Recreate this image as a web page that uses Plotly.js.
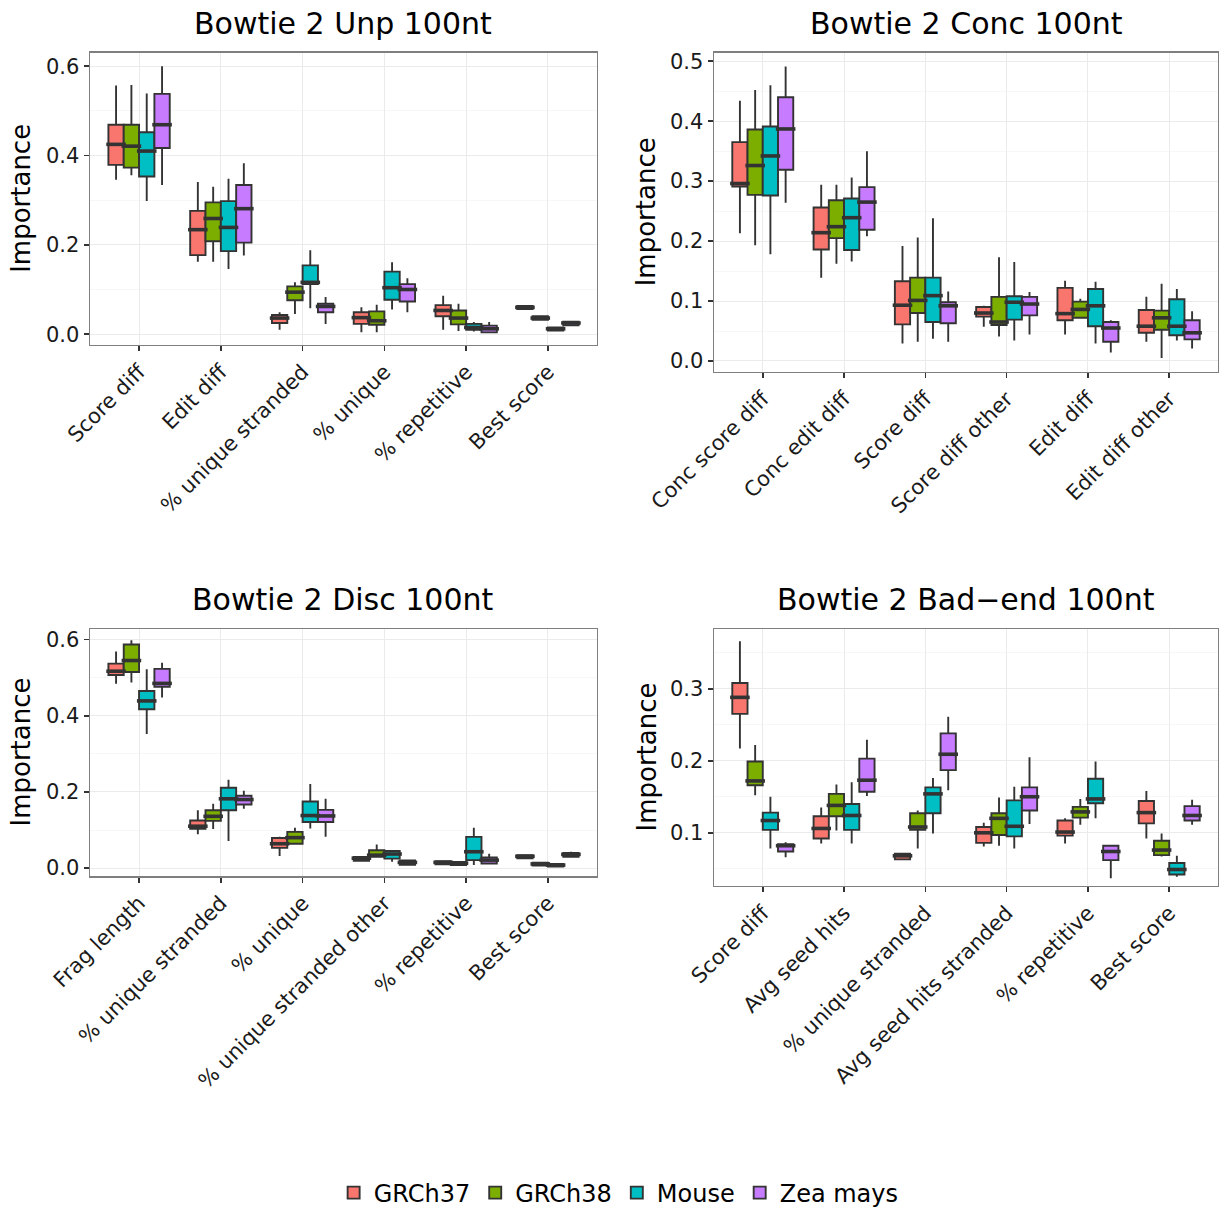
<!DOCTYPE html>
<html>
<head>
<meta charset="utf-8">
<script src="https://cdn.plot.ly/plotly-3.0.1.min.js"></script>
<style>
html,body{margin:0;padding:0;background:#fff}
</style>
</head>
<body>
<div id="chart" style="width:1225px;height:1216px"></div>
<script>
// ---------------- DATA ----------------
const genomes = ['GRCh37', 'GRCh38', 'Mouse', 'Zea mays'];

const unpCats  = ['Score diff', 'Edit diff', '% unique stranded', '% unique', '% repetitive', 'Best score'];
const concCats = ['Conc score diff', 'Conc edit diff', 'Score diff', 'Score diff other', 'Edit diff', 'Edit diff other'];
const discCats = ['Frag length', '% unique stranded', '% unique', '% unique stranded other', '% repetitive', 'Best score'];
const badCats  = ['Score diff', 'Avg seed hits', '% unique stranded', 'Avg seed hits stranded', '% repetitive', 'Best score'];

// each entry: [lower whisker, Q1, median, Q3, upper whisker]
const unpGRCh37 = [[0.346,0.379,0.425,0.469,0.557],[0.162,0.177,0.234,0.276,0.341],[0.010,0.025,0.036,0.043,0.049],[0.004,0.023,0.037,0.049,0.060],[0.010,0.040,0.053,0.065,0.086],[0.054,0.056,0.060,0.063,0.065]];
const unpGRCh38 = [[0.356,0.373,0.421,0.469,0.558],[0.162,0.208,0.259,0.295,0.330],[0.045,0.076,0.094,0.107,0.116],[0.004,0.021,0.030,0.051,0.066],[0.007,0.022,0.036,0.053,0.068],[0.030,0.032,0.036,0.040,0.041]];
const unpMouse  = [[0.298,0.353,0.410,0.452,0.539],[0.146,0.186,0.239,0.298,0.348],[0.058,0.112,0.116,0.154,0.188],[0.055,0.077,0.104,0.140,0.161],[0.006,0.010,0.015,0.023,0.027],[0.007,0.008,0.012,0.015,0.016]];
const unpZea    = [[0.334,0.417,0.469,0.538,0.600],[0.176,0.205,0.281,0.334,0.383],[0.023,0.049,0.062,0.068,0.083],[0.049,0.073,0.100,0.112,0.125],[0.003,0.004,0.012,0.019,0.027],[0.019,0.020,0.025,0.028,0.030]];

const concGRCh37 = [[0.213,0.291,0.296,0.365,0.434],[0.139,0.186,0.214,0.256,0.294],[0.029,0.061,0.093,0.133,0.192],[0.057,0.074,0.080,0.090,0.092],[0.044,0.068,0.079,0.122,0.134],[0.032,0.047,0.058,0.085,0.107]];
const concGRCh38 = [[0.193,0.277,0.326,0.386,0.452],[0.162,0.205,0.224,0.268,0.294],[0.032,0.080,0.101,0.139,0.206],[0.041,0.060,0.065,0.107,0.173],[0.072,0.072,0.086,0.099,0.104],[0.005,0.052,0.072,0.084,0.129]];
const concMouse  = [[0.178,0.276,0.342,0.391,0.460],[0.166,0.185,0.239,0.271,0.306],[0.037,0.065,0.109,0.139,0.238],[0.034,0.069,0.098,0.108,0.165],[0.029,0.058,0.092,0.120,0.132],[0.034,0.043,0.058,0.103,0.120]];
const concZea    = [[0.264,0.319,0.387,0.440,0.491],[0.208,0.219,0.265,0.290,0.350],[0.032,0.063,0.092,0.098,0.116],[0.044,0.076,0.095,0.107,0.115],[0.014,0.032,0.055,0.065,0.068],[0.021,0.036,0.047,0.068,0.083]];

const discGRCh37 = [[0.484,0.507,0.517,0.537,0.569],[0.089,0.103,0.110,0.125,0.152],[0.032,0.053,0.064,0.079,0.082],[0.018,0.019,0.026,0.029,0.031],[0.009,0.010,0.015,0.018,0.019],[0.025,0.026,0.031,0.034,0.036]];
const discGRCh38 = [[0.487,0.515,0.545,0.587,0.598],[0.103,0.124,0.136,0.152,0.169],[0.062,0.064,0.080,0.095,0.106],[0.028,0.030,0.034,0.047,0.062],[0.006,0.008,0.013,0.016,0.017],[0.005,0.007,0.011,0.014,0.015]];
const discMouse  = [[0.352,0.417,0.439,0.465,0.522],[0.071,0.152,0.182,0.211,0.232],[0.104,0.121,0.138,0.175,0.221],[0.017,0.025,0.037,0.045,0.045],[0.008,0.021,0.043,0.082,0.106],[0.002,0.004,0.008,0.011,0.012]];
const discZea    = [[0.448,0.476,0.485,0.523,0.539],[0.156,0.167,0.180,0.190,0.203],[0.082,0.121,0.137,0.153,0.182],[0.008,0.009,0.015,0.020,0.021],[0.010,0.012,0.021,0.028,0.038],[0.028,0.030,0.036,0.040,0.043]];

const badGRCh37 = [[0.217,0.265,0.288,0.308,0.366],[0.085,0.092,0.106,0.123,0.135],[0.062,0.063,0.068,0.071,0.071],[0.081,0.086,0.100,0.108,0.114],[0.085,0.096,0.101,0.117,0.120],[0.092,0.113,0.128,0.144,0.158]];
const badGRCh38 = [[0.152,0.166,0.172,0.199,0.222],[0.103,0.123,0.138,0.154,0.167],[0.078,0.104,0.108,0.127,0.131],[0.082,0.097,0.120,0.127,0.149],[0.111,0.121,0.129,0.136,0.147],[0.067,0.069,0.076,0.089,0.099]];
const badMouse  = [[0.078,0.104,0.117,0.128,0.150],[0.085,0.104,0.124,0.140,0.170],[0.099,0.127,0.154,0.163,0.176],[0.078,0.095,0.109,0.145,0.164],[0.120,0.141,0.147,0.175,0.199],[0.039,0.042,0.049,0.058,0.068]];
const badZea    = [[0.066,0.074,0.082,0.084,0.087],[0.151,0.157,0.173,0.203,0.229],[0.159,0.187,0.209,0.238,0.261],[0.112,0.131,0.150,0.163,0.205],[0.037,0.062,0.074,0.082,0.082],[0.111,0.117,0.124,0.137,0.146]];

const panelTitles = ['Bowtie 2 Unp 100nt', 'Bowtie 2 Conc 100nt', 'Bowtie 2 Disc 100nt', 'Bowtie 2 Bad\u2212end 100nt'];

// ---------------- STYLE / LAYOUT ----------------
const genomeColors = ['#F8766D', '#7CAE00', '#00BFC4', '#C77CFF'];
const FONT = 'DejaVu Sans, Verdana, sans-serif';
const W = 1225, H = 1216;

const panels = [
  {cats: unpCats,  stats: [unpGRCh37, unpGRCh38, unpMouse, unpZea],     px: [90, 597],   py: [53, 346],  range: [-0.024, 0.63],  dtick: 0.2, minor: 0.1},
  {cats: concCats, stats: [concGRCh37, concGRCh38, concMouse, concZea], px: [714, 1218], py: [53, 373],  range: [-0.018, 0.514], dtick: 0.1, minor: 0.05},
  {cats: discCats, stats: [discGRCh37, discGRCh38, discMouse, discZea], px: [90, 597],   py: [631, 879], range: [-0.021, 0.628], dtick: 0.2, minor: 0.1},
  {cats: badCats,  stats: [badGRCh37, badGRCh38, badMouse, badZea],     px: [714, 1218], py: [631, 889], range: [0.026, 0.383],  dtick: 0.1, minor: 0.05}
];

const traces = [];
const layout = {
  width: W, height: H,
  margin: {l: 0, r: 0, t: 0, b: 0},
  paper_bgcolor: '#ffffff', plot_bgcolor: '#ffffff',
  boxmode: 'group', boxgap: 0.25, boxgroupgap: 0,
  scattermode: 'group', scattergap: 0.25,
  showlegend: true,
  legend: {orientation: 'h', x: 0.505, xanchor: 'center', y: 1 - 1197 / H, yanchor: 'middle',
           font: {family: FONT, size: 24, color: '#000'}, bgcolor: 'rgba(0,0,0,0)', itemwidth: 30, traceorder: 'normal'},
  annotations: [],
  font: {family: FONT}
};

panels.forEach((p, i) => {
  const xs = i === 0 ? 'x' : 'x' + (i + 1);
  const ys = i === 0 ? 'y' : 'y' + (i + 1);
  const xk = i === 0 ? 'xaxis' : 'xaxis' + (i + 1);
  const yk = i === 0 ? 'yaxis' : 'yaxis' + (i + 1);

  p.stats.forEach((s, g) => {
    traces.push({
      type: 'box', name: genomes[g], legendgroup: genomes[g], showlegend: i === 0,
      x: p.cats,
      lowerfence: s.map(v => v[0]), q1: s.map(v => v[1]), median: s.map(v => v[2]),
      q3: s.map(v => v[3]), upperfence: s.map(v => v[4]),
      fillcolor: genomeColors[g], line: {color: '#333333', width: 1.9},
      whiskerwidth: 0, boxpoints: false, offsetgroup: 'g' + g,
      xaxis: xs, yaxis: ys, hoverinfo: 'skip'
    });
  });
  // thicker median bars (ggplot style)
  p.stats.forEach((s, g) => {
    traces.push({
      type: 'scatter', mode: 'markers', showlegend: false, legendgroup: genomes[g],
      x: p.cats, y: s.map(v => v[2]), offsetgroup: 'g' + g,
      marker: {symbol: 'line-ew', size: 14, color: '#333333', line: {width: 3.6, color: '#333333'}},
      xaxis: xs, yaxis: ys, hoverinfo: 'skip', cliponaxis: false
    });
  });

  layout[xk] = {
    domain: [p.px[0] / W, p.px[1] / W], anchor: ys,
    type: 'category', categoryorder: 'array', categoryarray: p.cats,
    range: [-0.6, 5.6],
    showgrid: true, gridcolor: '#EBEBEB', gridwidth: 1, zeroline: false,
    showline: true, mirror: true, linecolor: '#7F7F7F', linewidth: 1.4,
    ticks: 'outside', ticklen: 5, tickwidth: 1.6, tickcolor: '#333333',
    tickangle: -45, tickfont: {family: FONT, size: 21, color: '#1a1a1a'},
    fixedrange: true
  };
  layout[yk] = {
    domain: [1 - p.py[1] / H, 1 - p.py[0] / H], anchor: xs,
    range: p.range, tick0: 0, dtick: p.dtick, tickformat: '.1f',
    showgrid: true, gridcolor: '#EBEBEB', gridwidth: 1, zeroline: false,
    minor: {dtick: p.minor, tick0: 0, showgrid: true, gridcolor: '#F5F5F5', gridwidth: 0.8, ticks: ''},
    showline: true, mirror: true, linecolor: '#7F7F7F', linewidth: 1.4,
    ticks: 'outside', ticklen: 5, tickwidth: 1.6, tickcolor: '#333333',
    tickfont: {family: FONT, size: 21, color: '#1a1a1a'},
    fixedrange: true
  };

  const cx = (p.px[0] + p.px[1]) / 2 / W;
  layout.annotations.push({
    text: panelTitles[i], xref: 'paper', yref: 'paper', x: cx, xanchor: 'center',
    y: 1 - (i < 2 ? 24 : 601) / H, yanchor: 'middle', showarrow: false,
    font: {family: FONT, size: 30, color: '#000'}
  });
  layout.annotations.push({
    text: 'Importance', xref: 'paper', yref: 'paper', textangle: -90,
    x: (i % 2 === 0 ? 21 : 646) / W, xanchor: 'center',
    y: 1 - (p.py[0] + p.py[1]) / 2 / H, yanchor: 'middle', showarrow: false,
    font: {family: FONT, size: 26, color: '#000'}
  });
});

Plotly.newPlot('chart', traces, layout, {staticPlot: true, displayModeBar: false});
</script>
</body>
</html>
